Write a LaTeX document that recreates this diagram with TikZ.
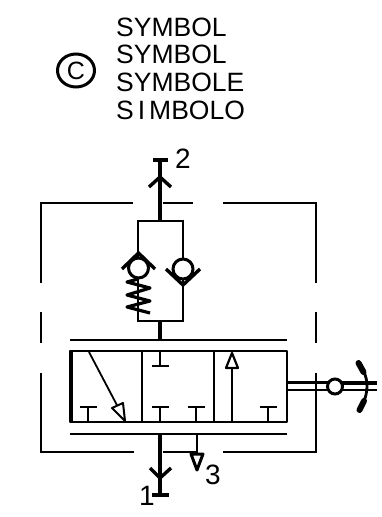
\documentclass[tikz,border=0pt]{standalone}
\usepackage{fontspec}
\setmainfont{Liberation Sans}
\tikzset{
 x=1pt,y=-1pt,
 thin line/.style={line width=2pt},
 frame/.style={line width=2.4pt},
 pipe/.style={line width=2.8pt},
 heavy/.style={line width=3.4pt},
 label/.style={inner sep=0pt,font=\fontsize{26.5}{26.5}\selectfont,anchor=base west},
 port/.style={inner sep=0pt,font=\fontsize{28}{28}\selectfont,anchor=base west}
}
\begin{document}
\begin{tikzpicture}[line cap=butt,line join=miter]
\useasboundingbox (0,0) rectangle (382,517);
% labels
\node[label] (t1) at (116,36) {SYMBOL};
\node[label] (t2) at (116,63) {SYMBOL};
\node[label] (t3) at (116,91) {SYMBOLE};
\node[label] (t4) at (116,119) {S\kern4pt I\kern4pt MBOLO};
\draw[line width=3pt] (76,70.5) ellipse [x radius=18.5,y radius=16.5];
\node[inner sep=0pt,font=\fontsize{25}{25}\selectfont] (c) at (76,70.5) {C};
% frame
\draw[frame] (41,283) -- (41,203) -- (133,203);
\draw[frame] (163,203) -- (193,203);
\draw[frame] (223,203) -- (316,203) -- (316,283);
\draw[frame] (41,312) -- (41,343);
\draw[frame] (316,312) -- (316,343);
\draw[frame] (41,373) -- (41,452) -- (134,452);
\draw[frame] (163,452) -- (196,452);
\draw[frame] (223,452) -- (316,452) -- (316,373);
% port 2
\coordinate (p2) at (160,160);
\coordinate (r1) at (138,221);
\coordinate (r2) at (183,221);
\coordinate (r3) at (183,321);
\coordinate (r4) at (138,321);
\draw[heavy] (153,160) -- (168,160);
\draw[heavy] (p2) -- (160,221);
\draw[heavy] (149,187) -- (160,177) -- (171,187);
% parallel branch
\draw[pipe] (138,268) -- (r1) -- (r2) -- (183,268);
\draw[pipe] (183,269) -- (r3) -- (r4) -- (138,268);
\draw[heavy] (160,321) -- (160,340);
% checks
\draw[line width=3pt,fill=white] (138.5,268) circle (10);
\draw[line width=3pt,fill=white] (183,269) circle (10);
\draw[heavy] (122,269) -- (138.5,253) -- (155,269);
\draw[heavy] (166,269) -- (183,285) -- (200,269);
% spring
\draw[line width=3.2pt,line join=round] (138,279) -- (127,282) -- (150,288) -- (127,295) -- (150,301) -- (127,307) -- (150,313);
% valve
\draw[thin line] (70,340) -- (287,340);
\draw[thin line] (70,434) -- (287,434);
\draw[line width=2.8pt,line join=round] (70,351) rectangle (287,422);
\draw[line width=4pt] (70.5,351) -- (70.5,422);
\draw[pipe] (142,351) -- (142,422);
\draw[pipe] (214,351) -- (214,422);
\draw[pipe] (160,351) -- (160,366);
\draw[pipe] (152,366) -- (169,366);
\foreach \tx in {88,160,196,268}{
  \draw[pipe] (\tx,407) -- (\tx,422);
  \draw[pipe] (\tx-8.5,407) -- (\tx+8.5,407);
}
% arrows in valve
\draw[line width=1.8pt] (89,352) -- (119,409);
\draw[line width=2pt,fill=white,line join=round] (125,421) -- (112,408) -- (123,403) -- cycle;
\draw[pipe] (232,422) -- (232,368);
\draw[line width=2.2pt,fill=white,line join=round] (232,353) -- (226,368) -- (238,368) -- cycle;
% port 1
\draw[heavy] (160,434) -- (160,495);
\draw[heavy] (152,495) -- (169,495);
\draw[heavy] (150,468) -- (160,478) -- (171,468);
% port 3
\draw[pipe] (197,434) -- (197,453);
\draw[line width=3pt,line join=round,fill=white] (191,454) -- (203,454) -- (197,470) -- cycle;
\node[port] (n1) at (139,505) {1};
\node[port] (n2) at (175,168) {2};
\node[port] (n3) at (205,484) {3};
% lever
\draw[heavy] (287,382.5) -- (330,382.5);
\draw[thin line] (287,390) -- (330,390);
\draw[heavy] (335,383) -- (377,383);
\draw[thin line] (335,390) -- (377,390);
\draw[line width=3pt,fill=white] (335,386.5) circle (7.5);
\draw[pipe] (364,372) .. controls (368,381) and (368,391) .. (364,401);
\draw[line width=6pt,line cap=round] (358.5,363) -- (363.5,372);
\draw[line width=6pt,line cap=round] (364,401) -- (359.5,410);
\end{tikzpicture}
\end{document}
